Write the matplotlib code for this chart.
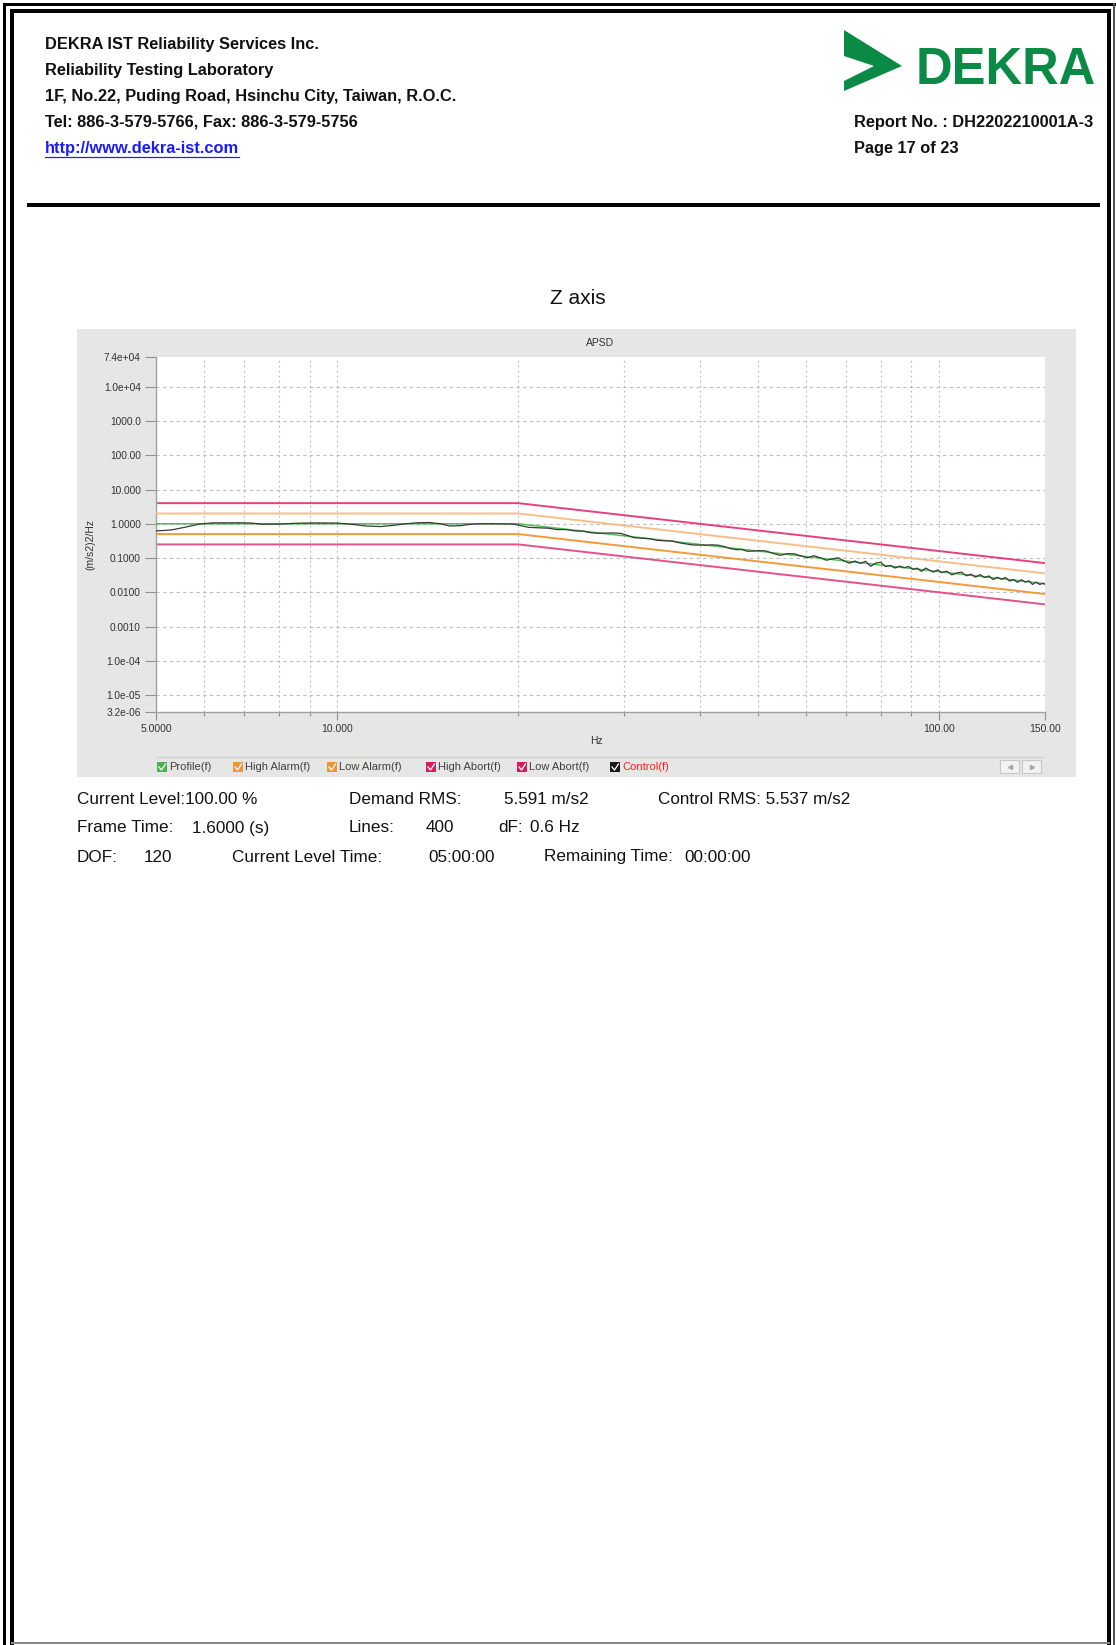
import numpy as np
import matplotlib
matplotlib.use("Agg")
import matplotlib.pyplot as plt
from matplotlib.patches import Rectangle, Polygon
from matplotlib.ticker import FixedLocator, NullFormatter, NullLocator

W, H = 1116, 1645
plt.rcParams['font.family'] = ['Liberation Sans', 'DejaVu Sans']

# ---- data ----
profile_hz = [5.0, 20.0, 150.0]
profile = [1.0, 1.0, 0.0178]
high_alarm = [2.0, 2.0, 0.0356]
low_alarm = [0.5, 0.5, 0.0089]
high_abort = [4.0, 4.0, 0.0711]
low_abort = [0.25, 0.25, 0.00444]

control_hz = [5.0, 5.3, 5.6, 5.9, 6.2, 6.8, 7.2, 7.5, 8.0, 8.6, 9.2, 10.0, 10.6, 11.2,
              11.8, 12.4, 13.0, 13.6, 14.2, 14.8, 15.4, 16.0, 16.6, 17.2, 18.4, 19.6,
              20.2, 20.8, 21.6, 22.4, 23.2, 24.0, 24.8, 25.6, 26.4, 27.2, 28.0, 28.8,
              29.6, 30.4, 31.2, 32.0, 33.0, 34.0, 35.0, 36.0, 37.0, 38.0, 39.0, 40.0,
              41.0, 42.0, 43.0, 44.0, 45.0, 46.0, 47.0, 48.0, 49.0, 50.0, 51.5, 53.0,
              54.5, 56.0, 57.5, 59.0, 60.5, 62.0, 63.5, 65.0, 66.5, 68.0, 69.5, 71.0,
              72.5, 74.0, 75.5, 77.0, 78.5, 80.0, 81.5, 83.0, 84.5, 86.0, 87.5, 89.0,
              90.5, 92.0, 93.5, 95.0, 96.5, 98.0, 99.5, 101, 103, 105, 107, 109, 111,
              113, 115, 117, 119, 121, 123, 125, 127, 129, 131, 133, 135, 137, 139,
              141, 143, 145, 147, 149, 150]
control = [0.62, 0.66, 0.80, 0.98, 1.06, 1.07, 1.05, 0.97, 0.98, 1.04, 1.06, 1.05, 0.96, 0.86,
           0.83, 0.90, 1.00, 1.07, 1.09, 1.01, 0.86, 0.88, 0.96, 1.00, 1.00, 0.98,
           0.88, 0.787, 0.764, 0.744, 0.678, 0.679, 0.621, 0.610, 0.548, 0.528, 0.534, 0.541,
           0.524, 0.453, 0.392, 0.382, 0.367, 0.330, 0.319, 0.316, 0.279, 0.258, 0.240, 0.239,
           0.238, 0.243, 0.237, 0.216, 0.189, 0.176, 0.177, 0.158, 0.159, 0.164, 0.162, 0.136,
           0.120, 0.134, 0.133, 0.115, 0.102, 0.117, 0.1015, 0.0864, 0.0947, 0.1016, 0.0828, 0.0707,
           0.0816, 0.0697, 0.0806, 0.0574, 0.0711, 0.0751, 0.0562, 0.0608, 0.0511, 0.0580, 0.0522, 0.0567,
           0.0466, 0.0507, 0.0408, 0.0509, 0.0440, 0.0388, 0.0453, 0.0374, 0.0413, 0.0323, 0.0366, 0.0387, 0.0303,
           0.0336, 0.0276, 0.0328, 0.0270, 0.0300, 0.0236, 0.0274, 0.0242, 0.0270, 0.0213, 0.0237, 0.0195, 0.0233, 0.0198,
           0.0216, 0.0170, 0.0199, 0.0169, 0.0184, 0.0170]

ytick_vals = [7.4e4, 1e4, 1e3, 100, 10, 1, 0.1, 0.01, 1e-3, 1e-4, 1e-5, 3.2e-6]
ytick_labels = ['7.4e+04', '1.0e+04', '1000.0', '100.00', '10.000', '1.0000', '0.1000',
                '0.0100', '0.0010', '1.0e-04', '1.0e-05', '3.2e-06']
xtick_vals = [5, 10, 100, 150]
xtick_labels = ['5.0000', '10.000', '100.00', '150.00']
xminor_vals = [6, 7, 8, 9, 20, 30, 40, 50, 60, 70, 80, 90]

legend_names = ['Profile(f)', 'High Alarm(f)', 'Low Alarm(f)', 'High Abort(f)', 'Low Abort(f)', 'Control(f)']
legend_colors = ['#4cb04c', '#f0962e', '#f0962e', '#d81b60', '#d81b60', '#1a1a1a']

header_lines = ['DEKRA IST Reliability Services Inc.', 'Reliability Testing Laboratory',
                '1F, No.22, Puding Road, Hsinchu City, Taiwan, R.O.C.',
                'Tel: 886-3-579-5766, Fax: 886-3-579-5756']
link = 'http://www.dekra-ist.com'
report_no = 'Report No. : DH2202210001A-3'
page_no = 'Page 17 of 23'

# status rows: (text, x, y)
status = [('Current Level:100.00 %', 77, 799), ('Demand RMS:', 349, 799), ('5.591 m/s2', 504, 799),
          ('Control RMS: 5.537 m/s2', 658, 799),
          ('Frame Time:', 77, 828), ('1.6000 (s)', 192, 828), ('Lines:', 349, 828), ('400', 426, 828),
          ('dF:', 498, 828), ('0.6 Hz', 530, 828),
          ('DOF:', 77, 857), ('120', 144, 857), ('Current Level Time:', 232, 857), ('05:00:00', 428, 857),
          ('Remaining Time:', 544, 857), ('00:00:00', 684, 857)]

fig = plt.figure(figsize=(W / 100, H / 100), dpi=100)
page = fig.add_axes([0, 0, 1, 1])
page.set_xlim(0, W)
page.set_ylim(H, 0)
page.axis('off')

px = 0.72  # points per pixel

# page border (double line)
page.plot([4, 4], [4, H], color='black', lw=3 * px)
page.plot([4, 1114], [4, 4], color='black', lw=3 * px)
page.plot([1114, 1114], [4, H], color='#555555', lw=2 * px)
page.plot([12, 12], [11, H], color='black', lw=4 * px)
page.plot([12, 1109], [11, 11], color='black', lw=4 * px)
page.plot([1109, 1109], [11, H], color='black', lw=4 * px)
page.plot([12, 1109], [1643, 1643], color='#888888', lw=2 * px)

# header
hdr = dict(fontsize=11.8, fontweight='bold', va='center', ha='left', color='#111111')
for txt, y in zip(header_lines, [45, 71, 97, 122]):
    page.text(45, y, txt, **hdr)
lk = page.text(45, 149, link, **{**hdr, 'color': '#1a1aff'})
page.text(854, 122, report_no, **hdr)
page.text(854, 149, page_no, **hdr)
fig.canvas.draw()
bb = lk.get_window_extent().transformed(page.transData.inverted())
page.plot([bb.x0, bb.x1], [157, 157], color='#1a1aff', lw=1.2 * px)

# DEKRA logo
green = '#0b8a45'
page.add_patch(Polygon([(844, 30), (902, 66), (844, 91), (844, 81), (874, 66), (844, 56)],
                       closed=True, facecolor=green, edgecolor='none'))
page.text(916, 84, 'DEKRA', fontsize=36.5, fontweight='bold', color=green, ha='left', va='baseline')

# header rule
page.plot([27, 1100], [205, 205], color='black', lw=4 * px, solid_capstyle='butt')

# chart title and panel
page.text(578, 298, 'Z axis', fontsize=15, ha='center', va='center', color='#111111')
page.add_patch(Rectangle((77, 329), 999, 448, facecolor='#e6e6e6', edgecolor='none'))
page.text(600, 343, 'APSD', fontsize=7.5, ha='center', va='center', color='#333333')
page.text(90, 545, '(m/s2)2/Hz', fontsize=7.5, rotation=90, ha='center', va='center', color='#333333')
page.text(596, 741, 'Hz', fontsize=7.5, ha='center', va='center', color='#333333')

# legend strip
page.plot([157, 1043], [757, 757], color='#cfcfc6', lw=1.2 * px)
for name, col, x0 in zip(legend_names, legend_colors, [157, 233, 327, 426, 517, 610]):
    page.add_patch(Rectangle((x0, 762), 10, 10, facecolor=col, edgecolor='none'))
    page.plot([x0 + 2, x0 + 4.5, x0 + 8.5], [767, 770, 764], color='white', lw=1.3 * px)
    page.text(x0 + 12, 767.5, name, fontsize=8, va='center', ha='left',
              color='#ff2020' if name == 'Control(f)' else '#404040')
for bx, mk in [(1000, '<'), (1022, '>')]:
    page.add_patch(Rectangle((bx, 760), 19, 13, facecolor='#f2f2f2', edgecolor='#c8c8c8', lw=0.8))
    page.plot([bx + 9.5], [766.5], marker=mk, ms=3, color='#a8a8a8')

# status text
for txt, x, y in status:
    page.text(x, y, txt, fontsize=12.3, va='center', ha='left', color='#111111')

# ---- the APSD axes ----
L, R, T, B = 156, 1045, 357, 712
ax = fig.add_axes([L / W, 1 - B / H, (R - L) / W, (B - T) / H])
ax.set_facecolor('white')
ax.set_xscale('log')
ax.set_yscale('log')
ax.set_xlim(5, 150)
ax.set_ylim(3.2e-6, 7.4e4)

for v in ytick_vals[1:-1]:
    ax.axhline(v, color='#bdbdbd', lw=0.8, ls=(0, (3, 3)), zorder=0)
for v in xminor_vals + [10, 100]:
    ax.axvline(v, color='#b5b5b5', lw=0.8, ls=(0, (1.5, 3)), zorder=0)

ax.plot(profile_hz, high_abort, color='#e8407f', lw=1.4, zorder=2)
ax.plot(profile_hz, low_abort, color='#e8508a', lw=1.4, zorder=2)
ax.plot(profile_hz, high_alarm, color='#f8bd88', lw=1.4, zorder=3)
ax.plot(profile_hz, low_alarm, color='#f39a3a', lw=1.4, zorder=3)
ax.plot(profile_hz, profile, color='#52c052', lw=1.1, zorder=4)
ax.plot(control_hz, control, color='#3a3a3a', lw=0.9, zorder=5)

ax.yaxis.set_major_locator(FixedLocator(ytick_vals))
ax.yaxis.set_minor_locator(NullLocator())
ax.set_yticklabels(ytick_labels)
ax.xaxis.set_major_locator(FixedLocator(xtick_vals))
ax.xaxis.set_minor_locator(FixedLocator(xminor_vals))
ax.xaxis.set_minor_formatter(NullFormatter())
ax.set_xticklabels(xtick_labels)

ax.tick_params(axis='y', which='major', length=8, width=0.8, color='#909090', pad=3,
               labelsize=7.3, labelcolor='#333333')
ax.tick_params(axis='x', which='major', length=6, width=0.8, color='#909090', pad=2.5,
               labelsize=7.5, labelcolor='#333333')
ax.tick_params(axis='x', which='minor', length=3, width=0.8, color='#909090')
for s in ['top', 'right']:
    ax.spines[s].set_visible(False)
for s in ['left', 'bottom']:
    ax.spines[s].set_color('#a0a0a0')
    ax.spines[s].set_linewidth(1.0)

fig.savefig('out.png', dpi=100)
